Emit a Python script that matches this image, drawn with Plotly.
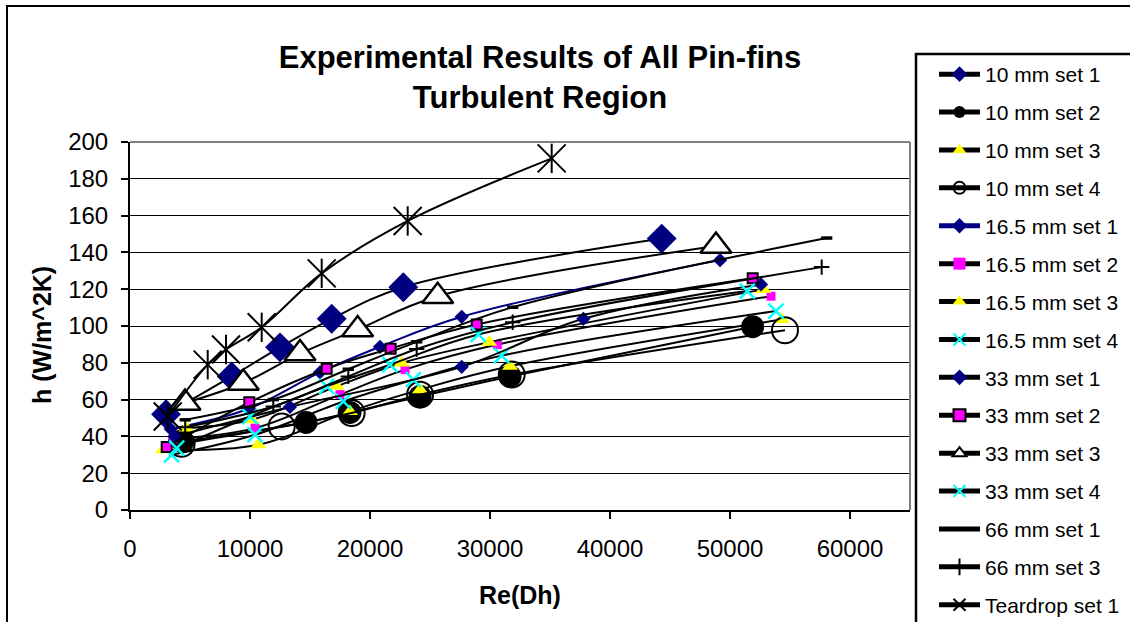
import plotly.graph_objects as go

# ---------------- data ----------------
series_names = ["10 mm set 1", "10 mm set 2", "10 mm set 3", "10 mm set 4",
                "16.5 mm set 1", "16.5 mm set 2", "16.5 mm set 3", "16.5 mm set 4",
                "33 mm set 1", "33 mm set 2", "33 mm set 3", "33 mm set 4",
                "66 mm set 1", "66 mm set 3", "Teardrop set 1"]

re_10_1 = [3000, 8475, 12500, 16810, 22775, 44310]
h_10_1 = [52, 72.6, 88.4, 103.9, 121.1, 147.5]
re_10_2 = [4400, 14670, 18330, 24170, 31670, 51890]
h_10_2 = [37.2, 47.6, 53, 61.7, 72.6, 99.6]
re_10_3 = [2780, 10690, 18330, 24170, 31670, 54300]
h_10_3 = [32.7, 35.4, 53.6, 65.4, 78.1, 103.5]
re_10_4 = [4300, 12640, 18470, 24170, 31810, 54580]
h_10_4 = [36, 45.4, 52.7, 62.7, 73.6, 97.7]

re_16_1 = [3400, 9900, 15830, 20830, 27640, 49170]
h_16_1 = [44, 55, 74.8, 88.7, 105, 135.8]
re_16_2 = [3610, 10420, 17500, 22920, 30610, 53420]
h_16_2 = [38.7, 44.5, 62.7, 76.3, 89.9, 116.2]
re_16_3 = [4720, 10140, 17220, 22640, 29940, 52780]
h_16_3 = [44.5, 49, 67.2, 79.9, 91.2, 119.9]
re_16_4 = [3470, 10420, 17780, 23610, 30970, 53830]
h_16_4 = [30, 40.9, 59, 70.8, 83.9, 108.1]

re_33_1 = [3700, 13330, 27640, 37780, 52580]
h_33_1 = [40, 56, 77.8, 103.9, 122.6]
re_33_2 = [3060, 9940, 16390, 21720, 28890, 51890]
h_33_2 = [34.2, 58.5, 76.8, 87.7, 100.8, 125.9]
re_33_3 = [4580, 9440, 14170, 18970, 25640, 48830]
h_33_3 = [58.1, 69, 85, 98.1, 116.2, 143.5]
re_33_4 = [3890, 10000, 16390, 21670, 29030, 51440]
h_33_4 = [33.6, 50.8, 67.2, 79, 95.4, 119]

re_66_1 = [4600, 11940, 18190, 23890, 31890, 58060]
h_66_1 = [49, 60, 76.5, 91.4, 110.2, 147.8]
re_66_3 = [4600, 11940, 18190, 23890, 31890, 57640]
h_66_3 = [45, 56.3, 72.6, 87.5, 102, 132]

re_td = [3140, 6475, 8000, 10975, 15975, 23140, 35140]
h_td = [50.8, 79, 87.2, 99.3, 128.6, 157.1, 191.1]

x_ticks = [0, 10000, 20000, 30000, 40000, 50000, 60000]
y_ticks = [0, 20, 40, 60, 80, 100, 120, 140, 160, 180, 200]

NAVY = "#000080"
MAG = "#FF00FF"
YEL = "#FFFF00"
CYAN = "#00FFFF"

xs = [re_10_1, re_10_2, re_10_3, re_10_4, re_16_1, re_16_2, re_16_3, re_16_4,
      re_33_1, re_33_2, re_33_3, re_33_4, re_66_1, re_66_3, re_td]
ys = [h_10_1, h_10_2, h_10_3, h_10_4, h_16_1, h_16_2, h_16_3, h_16_4,
      h_33_1, h_33_2, h_33_3, h_33_4, h_66_1, h_66_3, h_td]

styles = [
    dict(symbol="diamond", size=23, color=NAVY, line=dict(width=0)),
    dict(symbol="circle", size=23, color="black", line=dict(width=0)),
    dict(symbol="triangle-up", size=14, color=YEL, line=dict(width=0)),
    dict(symbol="circle-open", size=26, color="black", line=dict(width=2, color="black")),
    dict(symbol="diamond", size=11, color=NAVY, line=dict(width=0)),
    dict(symbol="square", size=9, color=MAG, line=dict(width=0)),
    dict(symbol="triangle-up", size=14, color=YEL, line=dict(width=0)),
    dict(symbol="x-thin-open", size=15, color=CYAN, line=dict(width=2.5, color=CYAN)),
    dict(symbol="diamond", size=11, color=NAVY, line=dict(width=0)),
    dict(symbol="square", size=10, color=MAG, line=dict(width=2, color="black")),
    dict(symbol="triangle-up", size=27, color="white", line=dict(width=2.5, color="black")),
    dict(symbol="x-thin-open", size=15, color=CYAN, line=dict(width=2.5, color=CYAN)),
    dict(symbol="line-ew-open", size=8, color="black", line=dict(width=3.5, color="black")),
    dict(symbol="cross-thin-open", size=11, color="black", line=dict(width=2, color="black")),
    dict(symbol="x-thin-open", size=28, color="black", line=dict(width=2, color="black")),
]
line_colors = ["black"] * 15
line_colors[4] = NAVY

fig = go.Figure()
for i, nm in enumerate(series_names):
    fig.add_trace(go.Scatter(
        x=xs[i], y=ys[i], name=nm, mode="lines+markers",
        legendgroup=nm,
        line=dict(color=line_colors[i], width=2, shape="spline", smoothing=1.0),
        marker=styles[i],
    ))
    if nm == "Teardrop set 1":
        fig.add_trace(go.Scatter(
            x=xs[i], y=ys[i], name=nm, mode="markers", legendgroup=nm, showlegend=False,
            marker=dict(symbol="line-ns-open", size=21, color="black",
                        line=dict(width=2, color="black")),
        ))

W, H = 1130, 622
L, R, T, B = 130, 220, 142, 112
pw, ph = W - L - R, H - T - B


def px_x(p):
    return (p - L) / pw


def px_y(p):
    return (H - B - p) / ph


FONT = "Liberation Sans, Arial, sans-serif"

fig.update_layout(
    width=W, height=H,
    margin=dict(l=L, r=R, t=T, b=B),
    paper_bgcolor="white", plot_bgcolor="white",
    font=dict(family=FONT, color="black"),
    title=dict(text="<b>Experimental Results of All Pin-fins<br>Turbulent Region</b>",
               font=dict(size=31, family=FONT, color="black"),
               x=540 / W, xref="container", xanchor="center",
               y=1 - 68 / H, yref="container", yanchor="top"),
    xaxis=dict(range=[0, 65000], tickvals=x_ticks, ticktext=[str(v) for v in x_ticks],
               ticks="outside", ticklen=7, tickwidth=2, tickcolor="black",
               showline=True, linecolor="black", linewidth=2,
               showgrid=False, zeroline=False, tickfont=dict(size=24),
               ticklabelstandoff=9),
    yaxis=dict(range=[0, 200], tickvals=y_ticks,
               ticks="outside", ticklen=7, tickwidth=2, tickcolor="black",
               showline=True, linecolor="black", linewidth=2,
               showgrid=True, gridcolor="black", gridwidth=1,
               zeroline=False, tickfont=dict(size=24), ticklabelstandoff=8),
    showlegend=True,
    legend=dict(x=934 / W, y=1 - 54 / H, xref="container", yref="container",
                xanchor="left", yanchor="top",
                font=dict(size=21, family=FONT, color="black"),
                bgcolor="rgba(0,0,0,0)", borderwidth=0, maxheight=620,
                itemwidth=41,
                itemsizing="constant", tracegroupgap=7.6, traceorder="grouped"),
    annotations=[
        dict(text="<b>Re(Dh)</b>", xref="paper", yref="paper",
             x=px_x(520), y=px_y(595), showarrow=False,
             font=dict(size=25, family=FONT, color="black"),
             xanchor="center", yanchor="middle"),
        dict(text="<b>h (W/m^2K)</b>", xref="paper", yref="paper",
             x=px_x(42), y=px_y(335), showarrow=False, textangle=-90,
             font=dict(size=25, family=FONT, color="black"),
             xanchor="center", yanchor="middle"),
    ],
    shapes=[
        dict(type="line", xref="paper", yref="paper", x0=0, x1=1, y0=1, y1=1,
             line=dict(color="#808080", width=2), layer="above"),
        dict(type="line", xref="paper", yref="paper", x0=1, x1=1, y0=0, y1=1,
             line=dict(color="#808080", width=2), layer="above"),
        dict(type="rect", xref="paper", yref="paper",
             x0=px_x(7), x1=px_x(1145), y0=px_y(640), y1=px_y(6),
             line=dict(color="black", width=2), fillcolor="rgba(0,0,0,0)", layer="above"),
        dict(type="rect", xref="paper", yref="paper",
             x0=px_x(916), x1=px_x(1145), y0=px_y(640), y1=px_y(54),
             line=dict(color="black", width=2.5), fillcolor="rgba(0,0,0,0)", layer="above"),
    ],
)

fig.write_html("out.html", config={"displayModeBar": False},
               post_script="document.body.style.margin='0';")
